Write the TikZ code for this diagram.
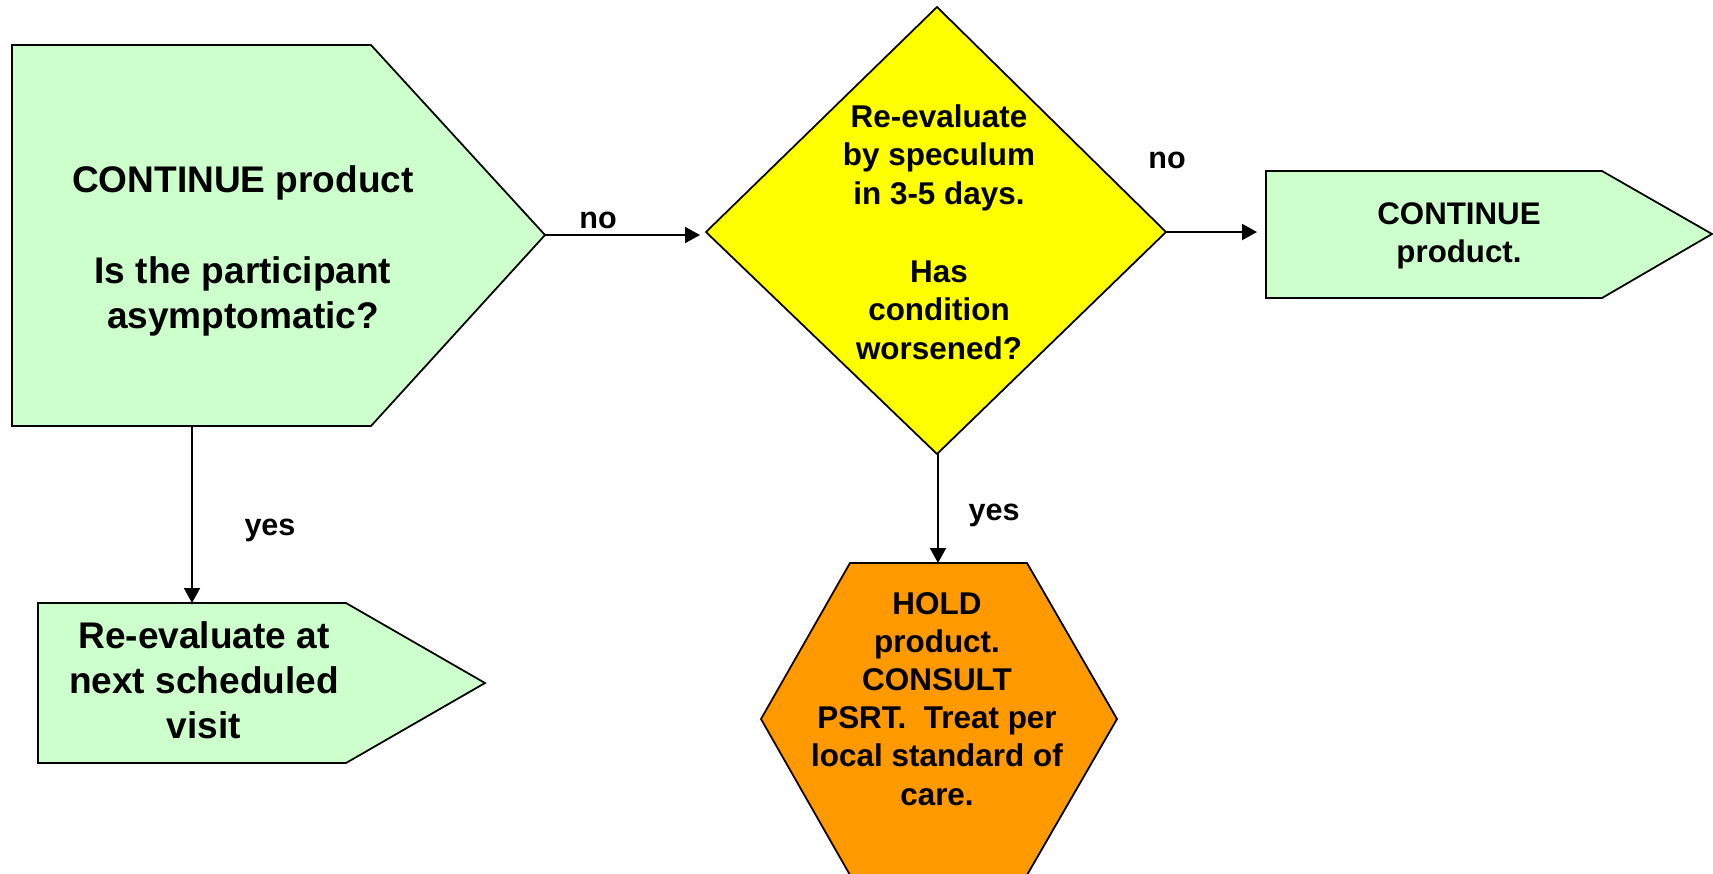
\documentclass[tikz,border=0pt]{standalone}
\usepackage{fontspec}
\setmainfont{Liberation Sans}
\usetikzlibrary{arrows.meta}

\definecolor{paleGreen}{HTML}{CCFFCC}
\definecolor{brightYellow}{HTML}{FFFF00}
\definecolor{amber}{HTML}{FF9900}

\begin{document}
\begin{tikzpicture}[x=0.02cm, y=-0.02cm,
  shapeline/.style={draw=black, line width=1pt, line join=miter},
  flow/.style={draw=black, line width=1.1pt, -{Triangle[length=0.3cm,width=0.32cm]}},
  textblock/.style={align=center, anchor=base, inner sep=0pt},
  largetext/.style={textblock, font=\bfseries\fontsize{21.1}{25.3}\selectfont},
  smalltext/.style={textblock, font=\bfseries\fontsize{17.9}{21.7}\selectfont},
  edgelabel/.style={anchor=base, inner sep=0pt, font=\bfseries\fontsize{17.4}{21}\selectfont}
]
\useasboundingbox (0,0) rectangle (1713,873);

% shapes
\draw[shapeline, fill=paleGreen] (12,45) -- (371,45) -- (545,235) -- (371,426) -- (12,426) -- cycle;
\draw[shapeline, fill=brightYellow] (937,7) -- (1166,232) -- (937,454) -- (706,232) -- cycle;
\draw[shapeline, fill=paleGreen] (1266,171) -- (1602,171) -- (1712,234) -- (1602,298) -- (1266,298) -- cycle;
\draw[shapeline, fill=paleGreen] (38,603) -- (346,603) -- (485,683) -- (346,763) -- (38,763) -- cycle;
\draw[shapeline, fill=amber] (850,563) -- (1027,563) -- (1117,719) -- (1027,875) -- (850,875) -- (761,719) -- cycle;

% connection points on the shapes
\coordinate (askE) at (545,235);
\coordinate (askS) at (192,426);
\coordinate (checkW) at (706,232);
\coordinate (checkE) at (1166,232);
\coordinate (checkS) at (938,454);
\coordinate (contW) at (1266,232);
\coordinate (visitN) at (192,603);
\coordinate (holdN) at (938,563);

% texts (placed by the baseline of their last line)
\node[largetext] (ask) at (243,328) {CONTINUE product\\[26.3pt]Is the participant\\asymptomatic?};
\node[smalltext] (check) at (939,359) {Re-evaluate\\by speculum\\in 3-5 days.\\[23.1pt]Has\\condition\\worsened?};
\node[textblock, font=\bfseries\fontsize{17.8}{21.2}\selectfont] (cont) at (1459,262) {CONTINUE\\product.};
\node[textblock, font=\bfseries\fontsize{21.1}{25.5}\selectfont] (visit) at (204,738) {Re-evaluate at\\next scheduled\\visit};
\node[smalltext] (hold) at (937,805) {HOLD\\product.\\CONSULT\\PSRT.\ \ Treat per\\local standard of\\care.};

% connectors
\draw[flow, shorten >=0.12cm] (askE) -- (askE -| checkW);
\draw[flow, shorten >=0.18cm] (checkE) -- (contW);
\draw[flow] (askS) -- (visitN);
\draw[flow] (checkS) -- (holdN);

% branch labels
\node[edgelabel] (noA) at (598,228) {no};
\node[edgelabel] (noB) at (1167,168) {no};
\node[edgelabel] (yesA) at (270,535) {yes};
\node[edgelabel] (yesB) at (994,520) {yes};
\end{tikzpicture}
\end{document}
